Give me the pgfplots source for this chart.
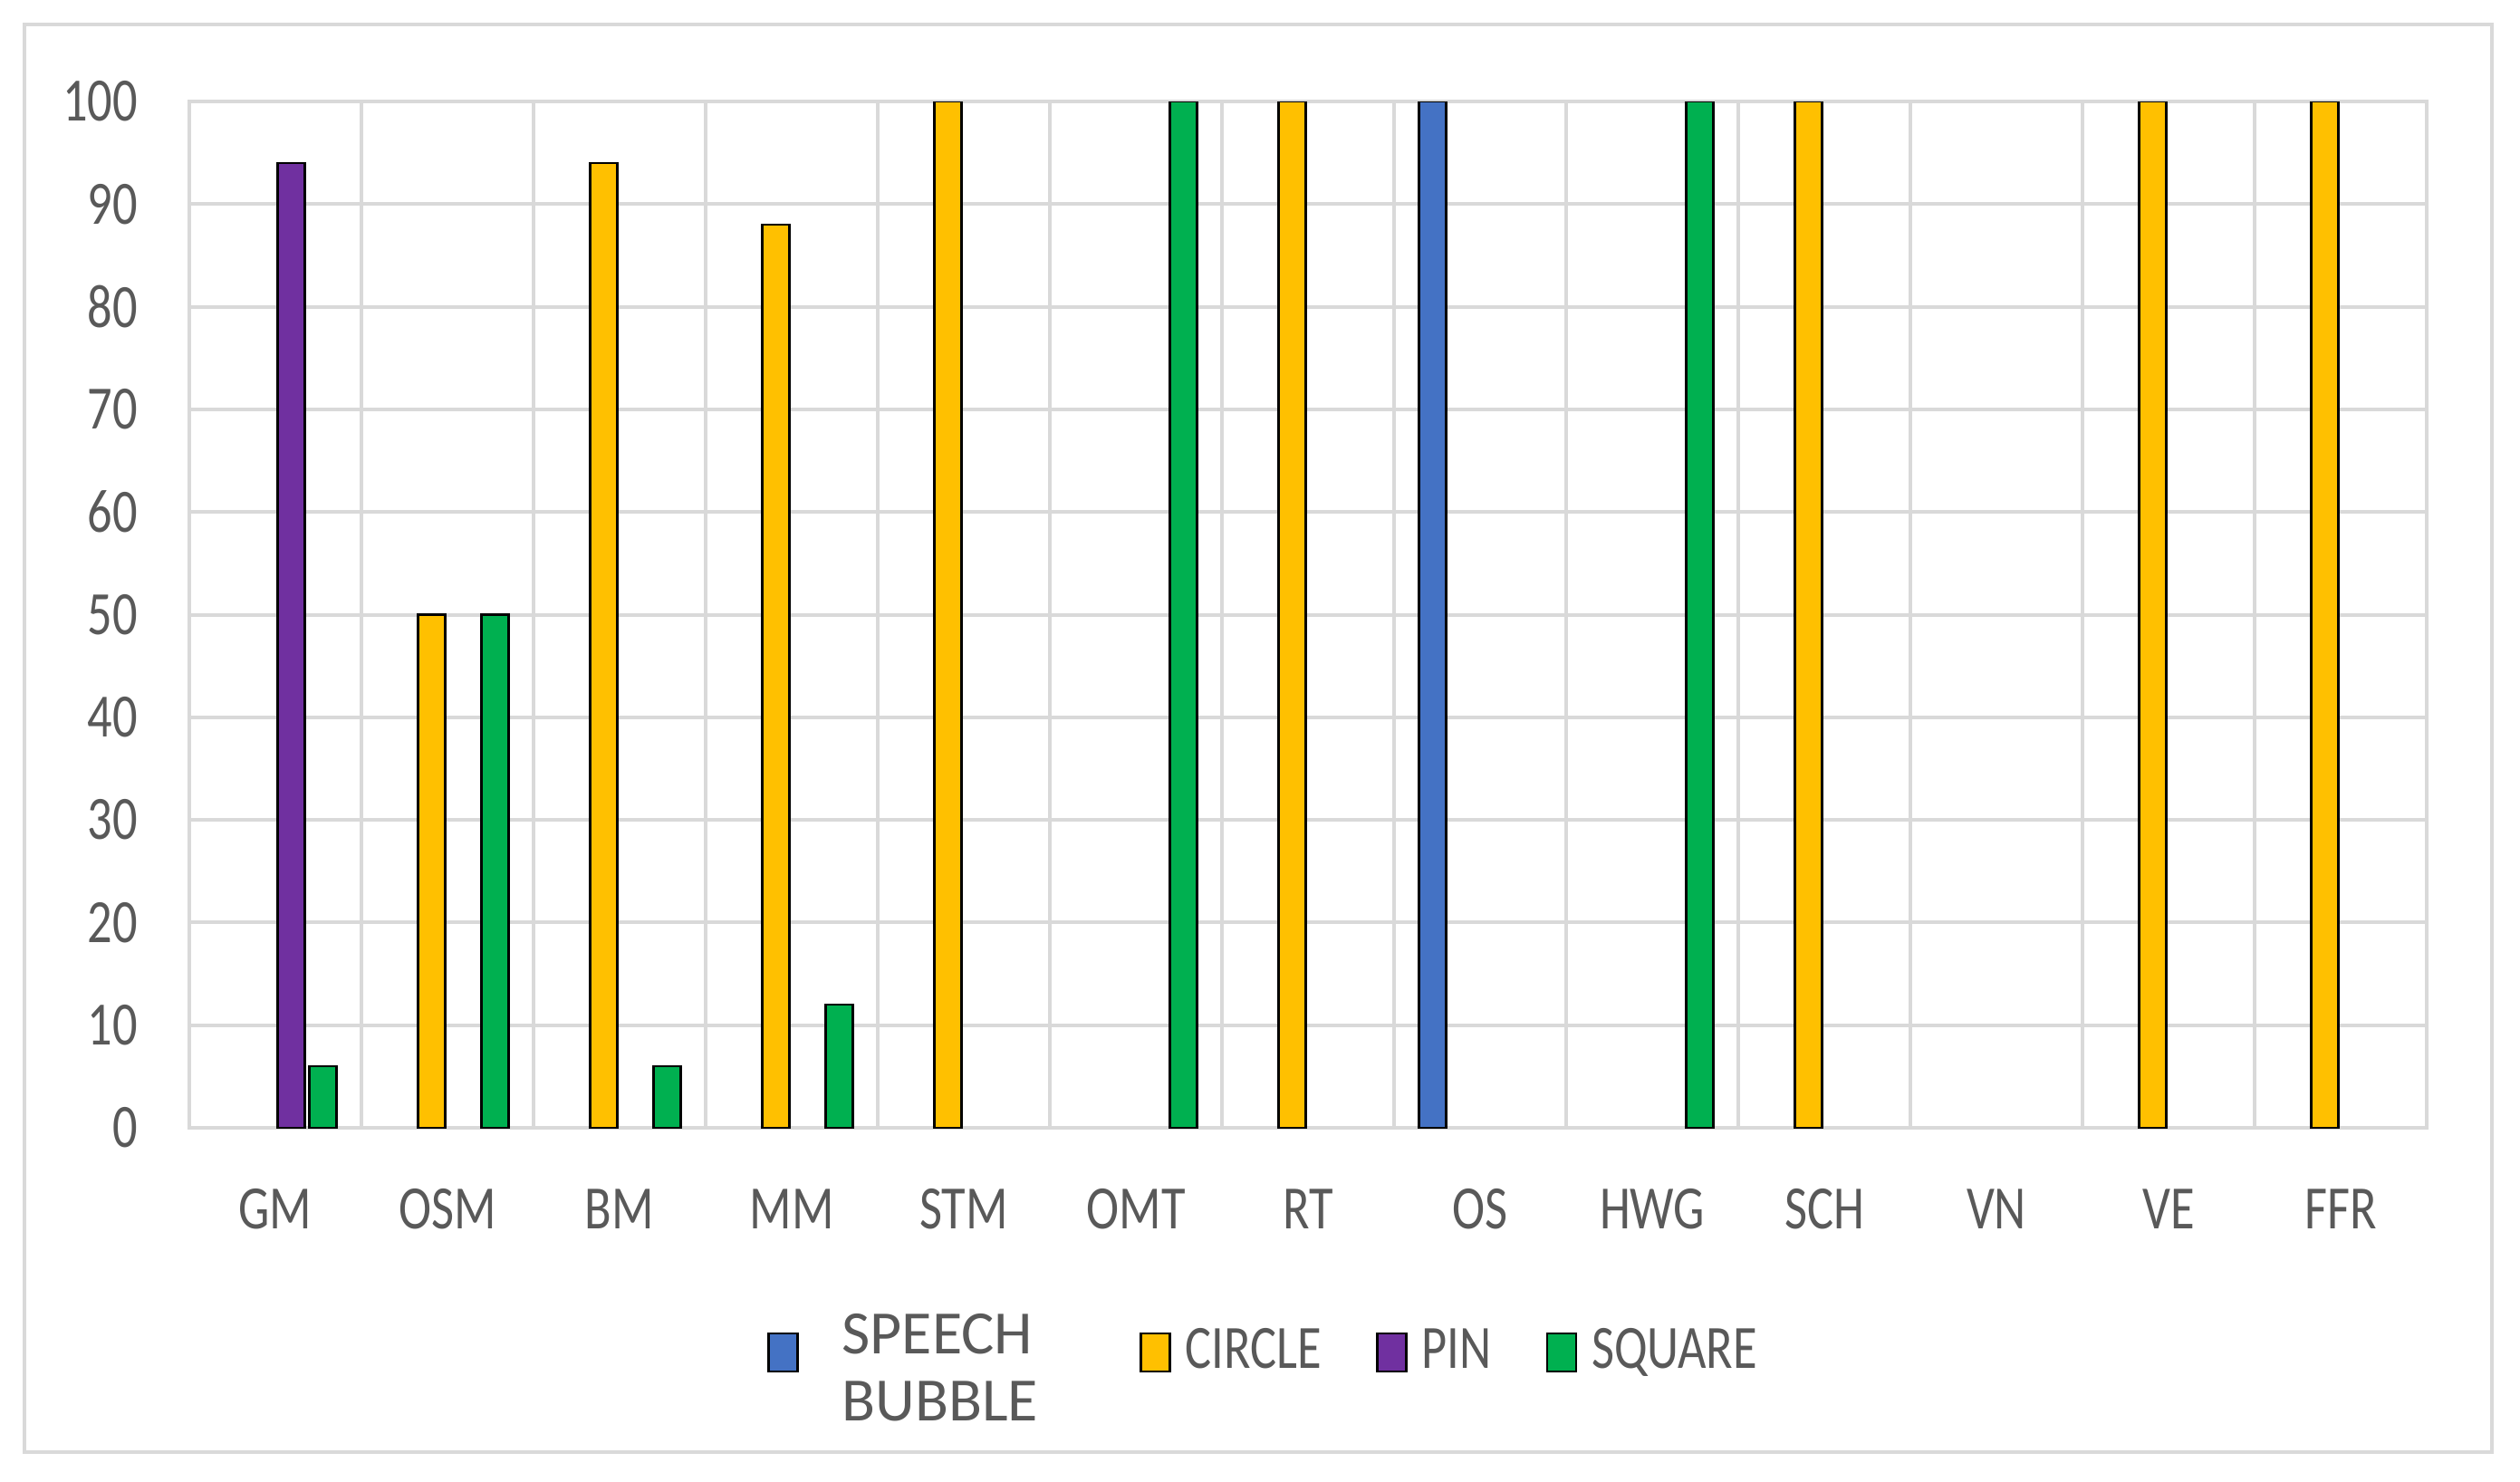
\documentclass[border=0pt]{standalone}
\usepackage{fontspec}
\setmainfont{Carlito}[FakeStretch=0.8]
\newfontfamily\widefont{Carlito}
\usepackage{pgfplots}
\pgfplotsset{compat=1.18}
\definecolor{gridgray}{HTML}{D9D9D9}
\definecolor{txtgray}{HTML}{595959}
\definecolor{cblue}{HTML}{4472C4}
\definecolor{cyellow}{HTML}{FFC000}
\definecolor{cpurple}{HTML}{7030A0}
\definecolor{cgreen}{HTML}{00B050}

\begin{document}
\begin{tikzpicture}[font=\fontsize{13.6}{14.8}\selectfont]
\useasboundingbox (-41.8pt,-78pt) rectangle (514.6pt,249pt);
\begin{axis}[
    at={(0,0)}, anchor=south west,
    scale only axis, width=494pt, height=226.6pt,
    ybar=1pt, bar width=6pt,
    xmin=-0.5, xmax=12.5, ymin=0, ymax=100,
    xtick={0,...,12},
    xticklabels={GM,OSM,BM,MM,STM,OMT,RT,OS,HWG,SCH,VN,VE,FFR},
    minor xtick={-0.5,0.5,...,12.5},
    ytick={0,10,...,100},
    ymajorgrids, xminorgrids,
    major grid style={draw=gridgray, line width=0.8pt},
    minor grid style={draw=gridgray, line width=0.8pt},
    axis line style={draw=gridgray, line width=0.8pt},
    major tick length=0pt, minor tick length=0pt,
    tick label style={text=txtgray, inner sep=0pt},
    xticklabel style={anchor=base, yshift=-22.3pt},
    yticklabel style={anchor=east, xshift=-11.2pt},
    /pgf/number format/assume math mode=true,
    every axis plot/.append style={draw=black, line width=0.5pt,
        legend image code/.code={\draw[##1] (0pt,-4.4pt) rectangle (6.4pt,4pt);}},
    legend columns=4,
    legend style={draw=none, fill=none, inner sep=0pt, text=txtgray,
        nodes={inner sep=0pt},
        /tikz/every even column/.append style={column sep=12pt},
        /tikz/every odd column/.append style={column sep=3.2pt},
        at={(0.2579,-0.218)}, anchor=west},
]
% SPEECH BUBBLE
\addplot[fill=cblue] coordinates {(7,100)};
% CIRCLE
\addplot[fill=cyellow] coordinates {(1,50) (2,94) (3,88) (4,100) (6,100) (9,100) (11,100) (12,100)};
% PIN
\addplot[fill=cpurple] coordinates {(0,94)};
% SQUARE
\addplot[fill=cgreen] coordinates {(0,6) (1,50) (2,6) (3,12) (5,100) (8,100)};
\addlegendentry{{\widefont\hspace*{6.4pt}\begin{tabular}[c]{@{}l@{}}SPEECH\\BUBBLE\end{tabular}\hspace*{10.5pt}}}
\addlegendentry{CIRCLE}
\addlegendentry{PIN}
\addlegendentry{SQUARE}
\end{axis}
\draw[gridgray, line width=0.9pt] (-36.4pt,-71.6pt) rectangle (508.4pt,243.6pt);
\end{tikzpicture}
\end{document}
